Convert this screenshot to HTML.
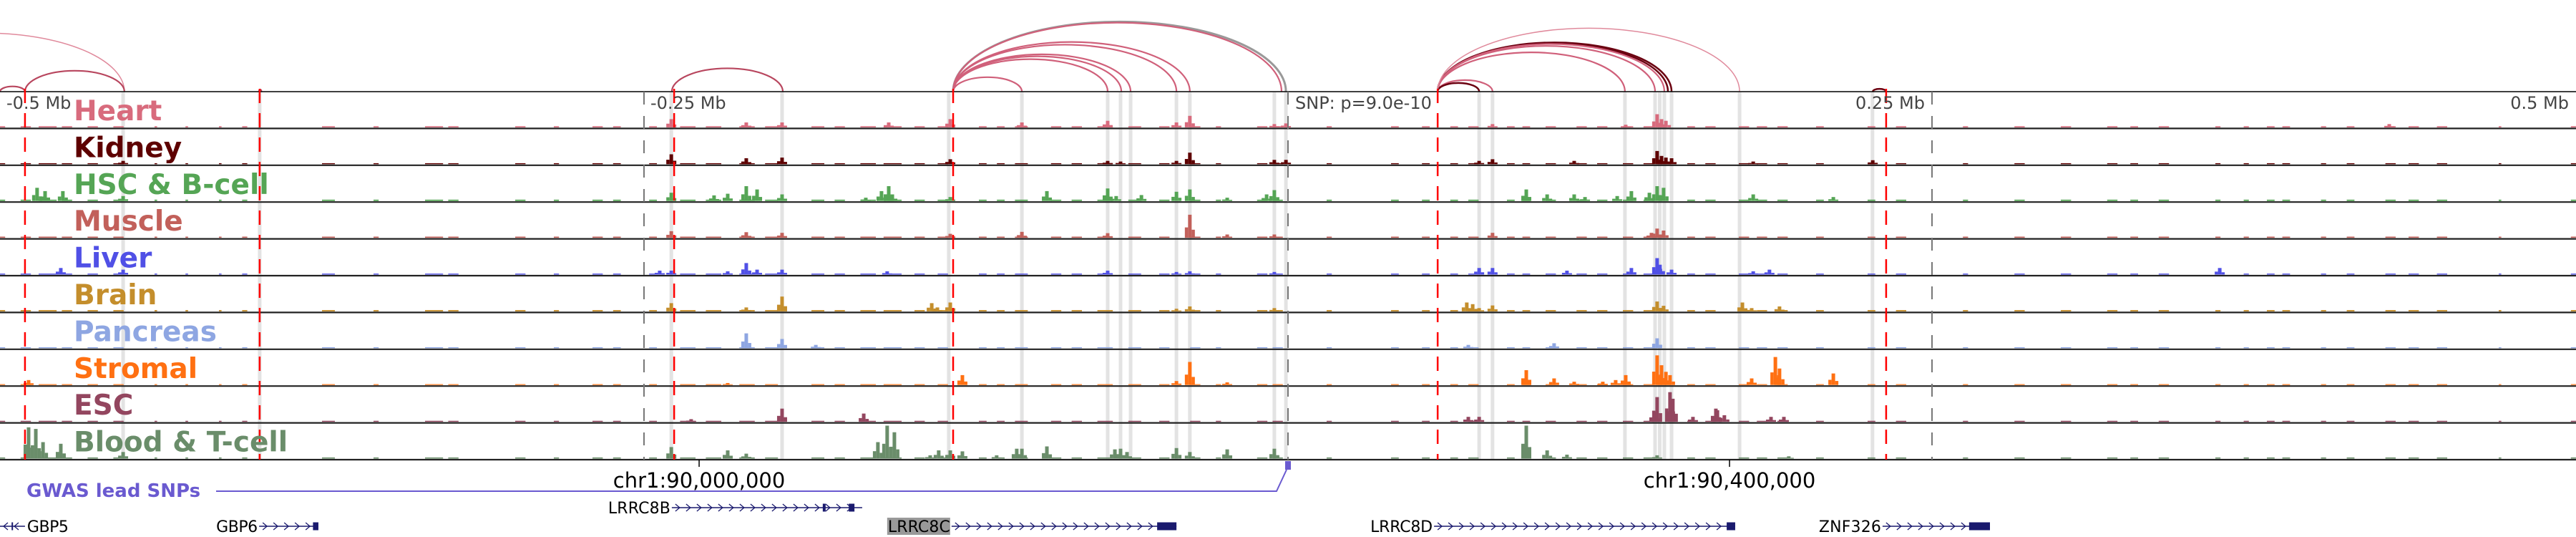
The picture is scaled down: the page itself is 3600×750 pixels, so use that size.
<!DOCTYPE html>
<html><head><meta charset="utf-8"><title>Genome browser tracks</title>
<style>
html,body{margin:0;padding:0;background:#fff;}
svg{display:block;}
</style></head>
<body>
<svg id="chart" width="3600" height="750" viewBox="0 0 3600 750" xmlns="http://www.w3.org/2000/svg">
  <g id="highlights"></g>
  <g id="arcs"></g>
  <g id="signals"></g>
  <g id="frame"></g>
  <g id="vlines"></g>
  <g id="labels"></g>
  <g id="ticks"></g>
  <g id="gwas"></g>
  <g id="genes"></g>
</svg>
<script>
// ---------------- DATA ----------------
const trackNames = ["Heart","Kidney","HSC & B-cell","Muscle","Liver","Brain","Pancreas","Stromal","ESC","Blood & T-cell"];
const trackColors = ["#d86b7d","#5e0000","#55a555","#c2605a","#5050e6","#c48e2c","#8ea6e2","#ff7012","#93465f","#6a8d6a"];
const baseLevels = [0.035,0.03,0.04,0.035,0.03,0.04,0.03,0.025,0.03,0.035];
const baseSegments = [[-500,-498],[-492,-488],[-485,-478],[-476,-472],[-466,-462],[-456,-452],[-440,-439],[-428,-427],[-415,-414],[-406,-404],[-375,-370],[-355,-353],[-335,-328],[-326,-322],[-300,-296],[-285,-283],[-270,-266],[-262,-259],[-248,-245],[-236,-230],[-226,-220],[-213,-207],[-203,-198],[-185,-180],[-176,-172],[-166,-160],[-157,-150],[-145,-141],[-136,-132],[-120,-117],[-113,-110],[-106,-101],[-92,-88],[-84,-80],[-74,-68],[-62,-57],[-50,-46],[-38,-34],[-28,-26],[-12,-8],[-6,-2],[15,17],[40,43],[52,55],[63,66],[70,74],[85,88],[91,94],[100,104],[112,116],[120,124],[130,134],[138,142],[155,158],[162,166],[175,179],[182,186],[190,194],[205,208],[225,228],[236,240],[262,264],[282,286],[300,304],[318,322],[327,330],[338,342],[360,362],[371,373],[380,383],[386,389],[401,403],[411,414],[426,430],[435,439],[446,450],[470,471],[498,500]];
const peaksHeart = [[-239.4,0.25],[-210.3,0.15],[-196.4,0.15],[-155,0.15],[-131.1,0.25],[-103.3,0.15],[-70,0.2],[-43.3,0.15],[-38.1,0.35],[-5.3,0.1],[-0.8,0.12],[79.4,0.1],[131.1,0.08],[143.3,0.4],[145,0.25],[146.7,0.2],[427.5,0.1]];
const peaksKidney = [[-452.2,0.1],[-239.4,0.3],[-210.3,0.18],[-196.4,0.2],[-131.1,0.15],[-70,0.1],[-65,0.08],[-43.3,0.1],[-38.1,0.35],[-5.3,0.13],[-0.8,0.13],[74.2,0.1],[79.4,0.15],[111.1,0.1],[143.3,0.4],[145,0.25],[146.7,0.2],[148.9,0.18],[180.6,0.08],[227,0.12]];
const peaksHSC = [[-485.6,0.4],[-482.5,0.3],[-475.6,0.3],[-452.2,0.15],[-239.4,0.25],[-222.8,0.17],[-217.5,0.22],[-210.3,0.45],[-206.1,0.35],[-196.4,0.2],[-163.9,0.1],[-157.8,0.3],[-155,0.45],[-153.6,0.2],[-131.1,0.12],[-93.6,0.3],[-70,0.38],[-66.7,0.15],[-56.9,0.18],[-43.3,0.28],[-38.1,0.35],[-23.6,0.1],[-8.3,0.2],[-5.3,0.33],[92.5,0.35],[100.6,0.2],[111.1,0.2],[115.3,0.12],[127.8,0.15],[133.3,0.3],[140.3,0.25],[143.3,0.45],[145.8,0.4],[180.6,0.2],[211.7,0.12]];
const peaksMuscle = [[-239.4,0.2],[-210.3,0.17],[-196.4,0.15],[-131.1,0.12],[-103.3,0.18],[-70,0.14],[-38.1,0.7],[-23.6,0.1],[-5.3,0.1],[79.4,0.15],[141.1,0.15],[143.3,0.28],[145.8,0.22]];
const peaksLiver = [[-476.4,0.2],[-452.2,0.15],[-243.9,0.12],[-239.4,0.12],[-217.5,0.1],[-210.3,0.35],[-206.1,0.15],[-196.4,0.15],[-155.6,0.1],[-70,0.12],[-43.3,0.08],[-38.1,0.1],[-5.3,0.08],[74.2,0.2],[79.4,0.2],[108.3,0.12],[133.3,0.2],[143.3,0.5],[144.4,0.3],[148.9,0.15],[180.6,0.1],[186.9,0.15],[361.7,0.2]];
const peaksBrain = [[-239.4,0.25],[-210.3,0.12],[-196.4,0.45],[-138.3,0.25],[-136.1,0.12],[-131.1,0.27],[-43.3,0.08],[-38.1,0.15],[-5.3,0.1],[69.4,0.27],[71.7,0.22],[74.2,0.1],[79.4,0.18],[143.3,0.3],[145.8,0.17],[176.4,0.27],[180,0.1],[190.8,0.15]];
const peaksPancreas = [[-210.3,0.45],[-196.4,0.28],[-183.3,0.1],[70,0.1],[103.3,0.15],[143.3,0.3]];
const peaksStromal = [[-488.9,0.15],[-217.5,0.06],[-126.4,0.3],[-43.3,0.12],[-38.1,0.7],[-23.6,0.08],[92.5,0.45],[103.3,0.2],[111.1,0.1],[122.2,0.1],[127.2,0.15],[131.1,0.3],[143.3,0.9],[145,0.6],[146.7,0.4],[148.3,0.3],[180,0.2],[189.2,0.85],[190.8,0.5],[211.7,0.35]];
const peaksESC = [[-231.7,0.08],[-196.4,0.4],[-164.7,0.25],[70,0.15],[74.2,0.15],[142.2,0.3],[143.3,0.75],[148.3,0.9],[149.4,0.7],[157.2,0.15],[166.1,0.4],[166.7,0.35],[169.4,0.2],[187.5,0.15],[192.5,0.15]];
const peaksBlood = [[-488.9,0.95],[-486.1,0.9],[-483.3,0.5],[-476.4,0.45],[-452.2,0.2],[-239.4,0.35],[-217.5,0.25],[-210.3,0.15],[-159.2,0.5],[-155.6,1.0],[-152.8,0.8],[-138.9,0.1],[-135.6,0.25],[-131.1,0.25],[-126.4,0.22],[-113.1,0.1],[-105.3,0.3],[-103.3,0.3],[-93.6,0.37],[-67.2,0.28],[-65,0.3],[-62.5,0.2],[-43.3,0.32],[-38.1,0.2],[-23.6,0.28],[-5.3,0.3],[92.5,1.0],[100.6,0.25],[108.3,0.12],[143.3,0.1],[194.4,0.07]];
const trackPeaks = [peaksHeart,peaksKidney,peaksHSC,peaksMuscle,peaksLiver,peaksBrain,peaksPancreas,peaksStromal,peaksESC,peaksBlood];
const arcStarts = [-560,-500,-490.3,-239.2,-130,-130,-130,-130,-130,-130,-130,-130,58.1,58.1,58.1,58.1,58.1,58.1,58.1,58.1,227,-399.5];
const arcEnds   = [-451.7,-490.3,-451.7,-196.1,-0.8,-2.5,-38.1,-43.3,-61.1,-64.7,-70,-103.3,148.9,147.5,146.1,142.5,130.8,79.4,74.2,175.3,232.2,-398.5];
const arcStyles = ["faint","mid","mid","mid","gray","pink","pink","pink","pink","pink","pink","pink","dark","dark","pink","pink","pink","pink","dark","faint","dark","mid"];
const highlightKb = [-452.2,-399.2,-239.4,-196.4,-131.7,-103.3,-70,-65,-61.1,-43.3,-38.1,-5.3,-0.8,74.2,79.4,130.8,142.5,144.3,146.1,148.9,175.3,226.9];
const redLinesKb = [-490.3,-399.2,-238.3,-130,58.1,232.2];
const grayLinesKb = [-250,0,250];
const tickKb = [-500,-250,250,500];
const tickLabels = ["-0.5 Mb","-0.25 Mb","0.25 Mb","0.5 Mb"];
const coordKb = [-228.6,171.4];
const coordLabels = ["chr1:90,000,000","chr1:90,400,000"];
const geneNames = ["GBP5","GBP6","LRRC8B","LRRC8C","LRRC8D","ZNF326"];
const geneStart = [-500,-399.4,-239.2,-130.6,56.7,230.8];
const geneEnd = [-490.3,-376.4,-165.3,-43.3,173.6,272.5];
const geneRow = [1,1,0,1,1,1];
const geneStrand = [-1,1,1,1,1,1];
const geneExonStart = [[-495.5],[-378.5],[-180.6,-170.5],[-50.8],[170.3],[264.4]];
const geneExonEnd = [[-495],[-376.4],[-179.5,-168.3],[-43.3],[173.6],[272.5]];

// ---------------- AXES ----------------
const NS="http://www.w3.org/2000/svg";
const W=3600, TOP=128, TH=51.4, NT=10;
const x = kb => 1800 + kb*3.6;
const trackTop = i => TOP + i*TH;
const trackBase = i => TOP + (i+1)*TH - 1.5;
const hScale = v => v*46;
function mk(tag, attrs, parent){const e=document.createElementNS(NS,tag);for(const k in attrs)e.setAttribute(k,attrs[k]);parent.appendChild(e);return e;}
const gH=document.getElementById('highlights'),gA=document.getElementById('arcs'),gS=document.getElementById('signals'),gF=document.getElementById('frame'),gV=document.getElementById('vlines'),gL=document.getElementById('labels'),gT=document.getElementById('ticks'),gG=document.getElementById('gwas'),gN=document.getElementById('genes');

highlightKb.forEach(k=>{
  const r=mk('rect',{x:x(k)-2.5,y:TOP+1,width:5,height:NT*TH-2,fill:'#e3e3e3'},gH);
  
  
});

const arcColor={faint:'#e08a9c',pink:'#d0607a',dark:'#6b0010',gray:'#999999',mid:'#b8465e'};
const arcWidth={faint:1.5,pink:2.2,dark:2.5,gray:3,mid:2.2};
arcStarts.forEach((s,i)=>{
  const x1=x(s),x2=x(arcEnds[i]),rx=(x2-x1)/2,ry=Math.max(3,rx*0.42);
  const p=mk('path',{d:`M${x1},${TOP} A${rx},${ry} 0 0 1 ${x2},${TOP}`,fill:'none',stroke:arcColor[arcStyles[i]],'stroke-width':arcWidth[arcStyles[i]]},gA);
  
  
});

trackPeaks.forEach((peaks,i)=>{
  const g=mk('g',{fill:trackColors[i]},gS);
  
  
  const b=trackBase(i);
  baseSegments.forEach(seg=>{
    const h=hScale(baseLevels[i]);
    const r=mk('rect',{x:x(seg[0]),y:b-h,width:x(seg[1])-x(seg[0]),height:h},g);
    
    
  });
  peaks.forEach(p=>{
    const cx=x(p[0]),h=hScale(p[1]);
    const r=mk('rect',{x:cx-2.5,y:b-h,width:5,height:h},g);
    
    
    const s1=mk('rect',{x:cx-7,y:b-h*0.45,width:4.5,height:h*0.45},g);
    
    
    const s2=mk('rect',{x:cx+2.5,y:b-h*0.35,width:4.5,height:h*0.35},g);
    
    
  });
});

for(let i=0;i<=NT;i++){
  const l=mk('line',{x1:0,x2:W,y1:TOP+i*TH,y2:TOP+i*TH,stroke:i===0?'#000':'#222','stroke-width':i===0?1.5:2.2},gF);
  
  
}

grayLinesKb.forEach(k=>{
  const l=mk('line',{x1:x(k),x2:x(k),y1:TOP,y2:TOP+NT*TH,stroke:'#777','stroke-width':2,'stroke-dasharray':'18 16'},gV);
  
  
});
redLinesKb.forEach(k=>{
  const l=mk('line',{x1:x(k),x2:x(k),y1:TOP-4,y2:TOP+NT*TH,stroke:'#ff0000','stroke-width':2.5,'stroke-dasharray':'20 14'},gV);
  
  
});

trackNames.forEach((n,i)=>{
  const t=mk('text',{x:103,y:trackTop(i)+40,fill:trackColors[i],'font-family':'DejaVu Sans, Liberation Sans, sans-serif','font-weight':'bold','font-size':39},gL);
  t.textContent=n;
  
  
});

tickKb.forEach((k,i)=>{
  const pos=k>0;
  const t=mk('text',{x:pos?x(k)-10:x(k)+9,y:152,fill:'#444','font-family':'DejaVu Sans, Liberation Sans, sans-serif','font-size':24,'text-anchor':pos?'end':'start'},gT);
  t.textContent=tickLabels[i];
  
  
});
{
  const t=mk('text',{x:x(0)+10,y:152,fill:'#444','font-family':'DejaVu Sans, Liberation Sans, sans-serif','font-size':24},gT);
  t.textContent='SNP: p=9.0e-10';
  
  
}
coordKb.forEach((k,i)=>{
  const l=mk('line',{x1:x(k),x2:x(k),y1:TOP+NT*TH,y2:TOP+NT*TH+10,stroke:'#000','stroke-width':1.5},gT);
  
  
  const t=mk('text',{x:x(k),y:681,fill:'#000','font-family':'DejaVu Sans, Liberation Sans, sans-serif','font-size':29,'text-anchor':'middle'},gT);
  t.textContent=coordLabels[i];
  
  
});

{
  const t=mk('text',{x:37,y:694,fill:'#6a5ad0','font-family':'DejaVu Sans, Liberation Sans, sans-serif','font-weight':'bold','font-size':26},gG);
  t.textContent='GWAS lead SNPs';
  
  
  const p=mk('polyline',{points:`302,686 ${x(0)-16},686 ${x(0)-2},656`,fill:'none',stroke:'#6a5ad0','stroke-width':2},gG);
  
  
  const r=mk('rect',{x:x(0)-4,y:644,width:8,height:12,fill:'#6a5ad0'},gG);
  
  
}

const rowY=[709,735];
geneNames.forEach((n,i)=>{
  const g=mk('g',{},gN);
  
  
  const y=rowY[geneRow[i]],x1=x(geneStart[i]),x2=x(geneEnd[i]);
  const labelRight = x1 < 100;
  if(n==='LRRC8C'){
    const bg=mk('rect',{x:x1-90,y:y-12,width:88,height:24,fill:'#999'},g);
    
    
  }
  const t=mk('text',{x:labelRight?x2+3:x1-2,y:y+8,'text-anchor':labelRight?'start':'end',fill:'#000','font-family':'DejaVu Sans, Liberation Sans, sans-serif','font-size':22,'textLength':n.length*14.5},g);
  t.textContent=n;
  
  
  const l=mk('line',{x1:x1,x2:x2,y1:y,y2:y,stroke:'#1a1a6e','stroke-width':1.5},g);
  
  
  let d='';
  for(let cx=x1+8;cx<x2-6;cx+=15){
    d+= geneStrand[i]>0 ? `M${cx-3},${y-5} L${cx+3},${y} L${cx-3},${y+5} ` : `M${cx+3},${y-5} L${cx-3},${y} L${cx+3},${y+5} `;
  }
  const ch=mk('path',{d:d,fill:'none',stroke:'#1a1a6e','stroke-width':1.3},g);
  
  
  geneExonStart[i].forEach((es,j)=>{
    const ex=mk('rect',{x:x(es),y:y-5.5,width:Math.max(2,x(geneExonEnd[i][j])-x(es)),height:11,fill:'#1a1a6e'},g);
    
    
  });
});
</script>
</body></html>
